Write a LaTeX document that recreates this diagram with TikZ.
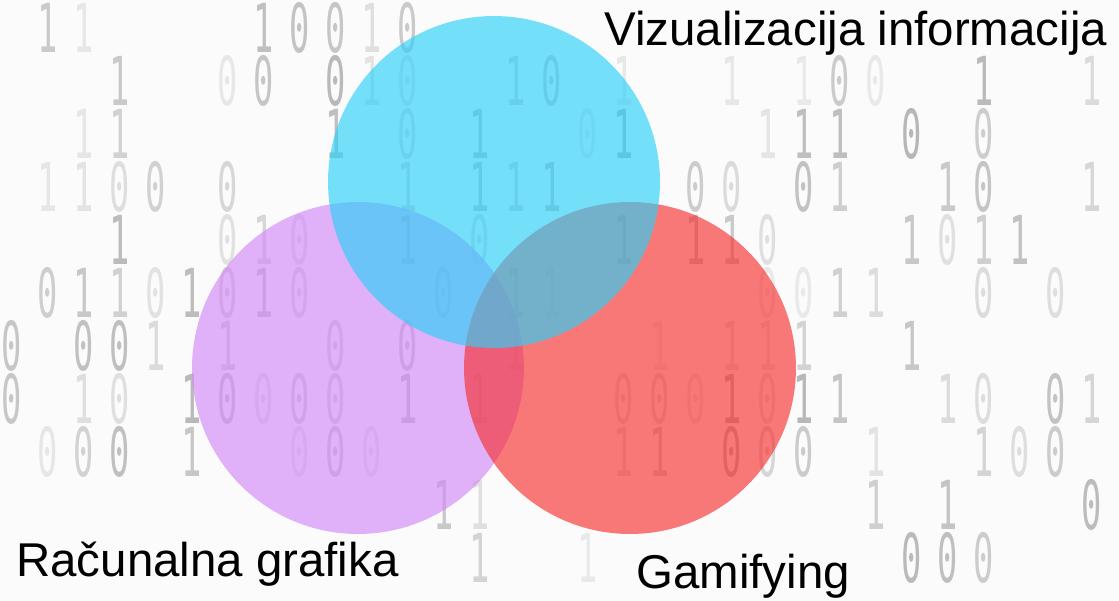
\documentclass[tikz,border=0pt]{standalone}
\usepackage{fontspec}
\setmainfont{Liberation Sans}
\newfontfamily\digitfont{DejaVu Sans Mono}
\usepackage{tikz}
\usetikzlibrary{positioning}
\definecolor{vennCyan}{RGB}{45,208,248}
\definecolor{vennPurple}{RGB}{210,136,247}
\definecolor{vennRed}{RGB}{247,50,50}
\definecolor{bgInk}{HTML}{8A8A8A}
\definecolor{bgPaper}{HTML}{FBFBFB}
\tikzset{
  vennset/.style={fill opacity=0.65},
  vennlabel/.style={font=\fontsize{27}{32}\selectfont, text=black,
    inner sep=0pt, anchor=base west},
  venndigit/.style={font=\digitfont\fontsize{32}{34}\selectfont,
    xscale=0.6, yscale=1.2, text=bgInk, inner sep=0pt},
}

\begin{document}
\begin{tikzpicture}[x=0.02cm,y=-0.02cm]
  \useasboundingbox (0,0) rectangle (1119,601);
  \fill[bgPaper] (0,0) rectangle (1119,601);

  % faded columns of binary digits behind the sets
  \pgfmathsetseed{11}
  \foreach \col in {0,...,30}{
    \foreach \row in {0,...,10}{
      \pgfmathrandominteger{\pick}{0}{3}
      \pgfmathsetmacro{\fade}{rnd*0.45+0.15}
      \pgfmathsetmacro{\px}{12+36*\col}
      \pgfmathsetmacro{\py}{28+53*\row}
      % keep the label areas clear
      \pgfmathtruncatemacro{\free}{(\px>585 && \py<70) ||
        (\px<415 && \py>490) || (\px>615 && \px<865 && \py>500) ? 0 : 1}
      \ifnum\pick<2 \ifnum\free=1
        \node[venndigit,opacity=\fade] (digit\col-\row)
          at (\px,\py) {\pick};
      \fi\fi
    }
  }

  % the three sets
  \fill[vennset,vennPurple] (358,368) circle [radius=3.32cm];
  \fill[vennset,vennRed] (630,368) circle [radius=3.32cm];
  \fill[vennset,vennCyan] (494,182) circle [radius=3.32cm];

  \node[vennlabel] (vizual) at (604,46) {Vizualizacija informacija};
  \node[vennlabel] (racun) at (16,576) {Računalna grafika};
  \node[vennlabel] (gamif) at (636,588) {Gamifying};
\end{tikzpicture}
\end{document}
